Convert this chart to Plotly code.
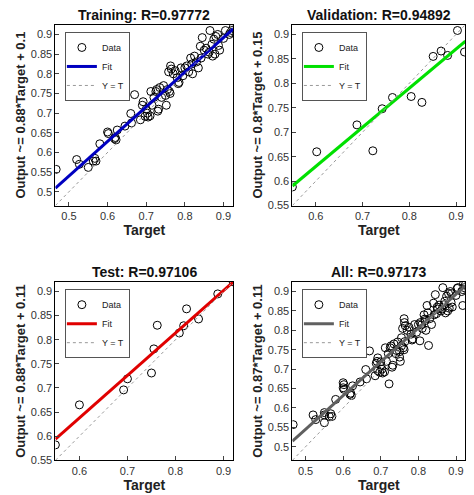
import plotly.graph_objects as go

# Training data
train_x = [0.467, 0.52, 0.527, 0.55, 0.563, 0.567, 0.57, 0.58, 0.6, 0.602, 0.618, 0.62, 0.622, 0.625,
           0.645, 0.66, 0.662, 0.67, 0.685, 0.69, 0.692, 0.697, 0.7, 0.703, 0.705, 0.71, 0.712, 0.715,
           0.72, 0.725, 0.727, 0.73, 0.732, 0.735, 0.74, 0.745, 0.75, 0.752, 0.755, 0.758, 0.76, 0.762,
           0.763, 0.765, 0.77, 0.775, 0.78, 0.783, 0.785, 0.79, 0.795, 0.8, 0.805, 0.81, 0.815, 0.818,
           0.82, 0.825, 0.83, 0.835, 0.84, 0.842, 0.845, 0.85, 0.855, 0.86, 0.863, 0.865, 0.87, 0.872,
           0.875, 0.878, 0.88, 0.885, 0.887, 0.89, 0.9, 0.905, 0.915, 0.918, 0.922, 0.925]
train_y = [0.557, 0.582, 0.57, 0.562, 0.578, 0.585, 0.578, 0.622, 0.652, 0.648, 0.635, 0.638, 0.632, 0.657,
           0.667, 0.699, 0.675, 0.747, 0.683, 0.72, 0.729, 0.692, 0.71, 0.7, 0.69, 0.693, 0.755, 0.72,
           0.74, 0.755, 0.76, 0.705, 0.71, 0.765, 0.74, 0.77, 0.745, 0.72, 0.76, 0.805, 0.755, 0.75,
           0.82, 0.812, 0.8, 0.808, 0.79, 0.775, 0.778, 0.815, 0.795, 0.815, 0.82, 0.805, 0.84, 0.825,
           0.8, 0.845, 0.83, 0.815, 0.87, 0.84, 0.892, 0.86, 0.865, 0.85, 0.855, 0.91, 0.875, 0.845,
           0.888, 0.85, 0.895, 0.9, 0.872, 0.86, 0.89, 0.91, 0.9, 0.905, 0.91, 0.918]

# Validation data
val_x = [0.55, 0.602, 0.688, 0.722, 0.742, 0.764, 0.804, 0.827, 0.851, 0.868, 0.882, 0.903, 0.918]
val_y = [0.588, 0.66, 0.715, 0.662, 0.748, 0.771, 0.773, 0.761, 0.855, 0.866, 0.857, 0.908, 0.864]

# Test data
test_x = [0.55, 0.6, 0.692, 0.7, 0.75, 0.755, 0.762, 0.808, 0.817, 0.823, 0.848, 0.888, 0.92]
test_y = [0.582, 0.665, 0.696, 0.719, 0.731, 0.781, 0.83, 0.814, 0.829, 0.864, 0.843, 0.895, 0.92]

all_x = train_x + val_x + test_x
all_y = train_y + val_y + test_y

panels = [
    # title, x, y, slope, intercept, colour, range, ylabel
    ("Training: R=0.97772", train_x, train_y, 0.88, 0.1, "#0000c0", [0.465, 0.925], "Output ~= 0.88*Target + 0.1"),
    ("Validation: R=0.94892", val_x, val_y, 0.8, 0.15, "#00e000", [0.55, 0.92], "Output ~= 0.8*Target + 0.15"),
    ("Test: R=0.97106", test_x, test_y, 0.88, 0.11, "#e00000", [0.55, 0.92], "Output ~= 0.88*Target + 0.11"),
    ("All: R=0.97173", all_x, all_y, 0.87, 0.11, "#606060", [0.465, 0.925], "Output ~= 0.87*Target + 0.11"),
]

xdoms = [[0.1, 0.475], [0.6, 0.965], [0.1, 0.475], [0.6, 0.965]]
ydoms = [[0.596, 0.966], [0.596, 0.966], [0.075, 0.44], [0.075, 0.44]]

fig = go.Figure()
font = "Liberation Sans, Arial, sans-serif"

for i, (title, xs, ys, a, b, col, rng, ylab) in enumerate(panels):
    n = "" if i == 0 else str(i + 1)
    xa, ya = "x" + n, "y" + n
    lg = "legend" + n
    fig.add_trace(go.Scatter(x=xs, y=ys, mode="markers", name="Data", xaxis=xa, yaxis=ya, legend=lg,
                             marker=dict(symbol="circle-open", size=8, color="black", line=dict(width=1))))
    fig.add_trace(go.Scatter(x=rng, y=[a * rng[0] + b, a * rng[1] + b], mode="lines", name="Fit",
                             xaxis=xa, yaxis=ya, legend=lg, line=dict(color=col, width=3)))
    fig.add_trace(go.Scatter(x=rng, y=rng, mode="lines", name="Y = T", xaxis=xa, yaxis=ya, legend=lg,
                             line=dict(color="#999999", width=1, dash="dot")))
    ax = dict(range=rng, domain=xdoms[i], dtick=0.1, tick0=0.5, showgrid=False, zeroline=False,
              showline=True, mirror=True, linecolor="black", ticks="inside", ticklen=4,
              tickfont=dict(size=11, color="#333"), anchor=ya,
              title=dict(text="<b>Target</b>", font=dict(size=14, color="#222"), standoff=4))
    ay = dict(range=rng, domain=ydoms[i], dtick=0.05, tick0=0.5, showgrid=False, zeroline=False,
              showline=True, mirror=True, linecolor="black", ticks="inside", ticklen=4,
              tickfont=dict(size=11, color="#333"), anchor=xa,
              title=dict(text="<b>" + ylab + "</b>", font=dict(size=13, color="#222"), standoff=2))
    fig.layout["xaxis" + n] = ax
    fig.layout["yaxis" + n] = ay
    fig.layout[lg] = dict(x=xdoms[i][0] + 0.02, y=ydoms[i][1] - 0.015, xanchor="left", yanchor="top",
                          bgcolor="white", bordercolor="#555", borderwidth=1,
                          font=dict(size=9, color="#222"), tracegroupgap=0, itemwidth=30,
                          entrywidth=70, indentation=-4)
    fig.add_annotation(text="<b>" + title + "</b>", x=sum(xdoms[i]) / 2, y=ydoms[i][1], xref="paper",
                       yref="paper", xanchor="center", yanchor="bottom", showarrow=False,
                       font=dict(size=14, color="#111"))

fig.update_layout(width=474, height=495, margin=dict(l=0, r=0, t=0, b=0), plot_bgcolor="white",
                  paper_bgcolor="white", font=dict(family=font))
fig.write_html("out.html")
